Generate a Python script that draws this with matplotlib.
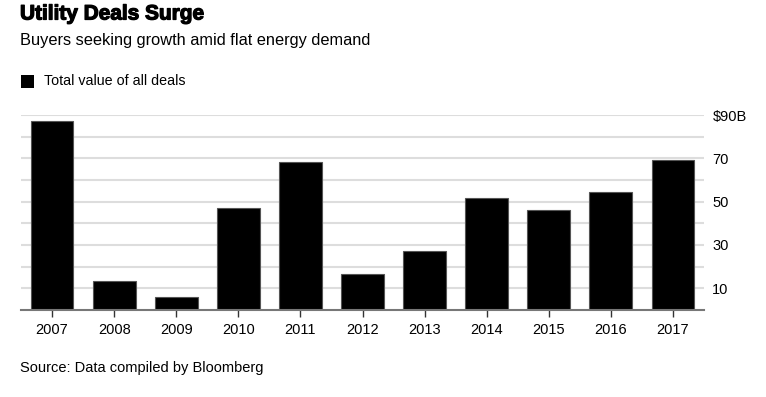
import matplotlib
matplotlib.use("Agg")
import matplotlib.pyplot as plt
import matplotlib.patheffects as pe

years = ["2007", "2008", "2009", "2010", "2011", "2012", "2013", "2014", "2015", "2016", "2017"]
values = [87.2, 13.4, 6.1, 47.0, 68.2, 16.5, 27.4, 51.5, 46.2, 54.3, 69.1]
ytick_vals = [10, 30, 50, 70, 90]
ytick_labels = ["10", "30", "50", "70", "$90B"]

plt.rcParams['font.family'] = ['Liberation Sans', 'DejaVu Sans']

W, H = 766, 397
fig = plt.figure(figsize=(W / 100, H / 100), dpi=100)
ax = fig.add_axes([21 / W, 1 - 310 / H, (704 - 21) / W, (310 - 115) / H])

x = list(range(len(years)))
ax.bar(x, values, width=0.69, color="black", edgecolor="#555555", linewidth=0.8, zorder=3)

ax.set_xlim(-0.5, 10.5)
ax.set_ylim(0, 90)
for v in range(10, 91, 10):
    ax.axhline(v, color="#dddddd", linewidth=1.5, zorder=1)

ax.yaxis.tick_right()
ax.set_yticks(ytick_vals)
ax.set_yticklabels(ytick_labels, fontsize=10.5)
ax.tick_params(axis="y", length=0, pad=6)
for lab in ax.get_yticklabels():
    lab.set_horizontalalignment("left")

ax.set_xticks(x)
ax.set_xticklabels(years, fontsize=10.5)
ax.tick_params(axis="x", length=5, width=1, color="#333333", pad=4, direction="out")

for s in ["top", "left", "right"]:
    ax.spines[s].set_visible(False)
ax.spines["bottom"].set_color("#777777")
ax.spines["bottom"].set_linewidth(1.5)
ax.spines["bottom"].set_zorder(4)

t = fig.text(20 / W, 1 - 14 / H, "Utility Deals Surge", fontsize=15, fontweight="bold",
             va="center", ha="left", family=["Liberation Sans"])
t.set_path_effects([pe.withStroke(linewidth=0.9, foreground="black")])
fig.text(20 / W, 1 - 40 / H, "Buyers seeking growth amid flat energy demand", fontsize=11.8,
         va="center", ha="left")
fig.patches.append(plt.Rectangle((21 / W, 1 - 88 / H), 13 / W, 13 / H, transform=fig.transFigure,
                                 facecolor="black", edgecolor="none"))
fig.text(44 / W, 1 - 81 / H, "Total value of all deals", fontsize=10.3, va="center", ha="left")
fig.text(20 / W, 1 - 368 / H, "Source: Data compiled by Bloomberg", fontsize=10.5, va="center", ha="left")

fig.savefig("out.png", dpi=100)
